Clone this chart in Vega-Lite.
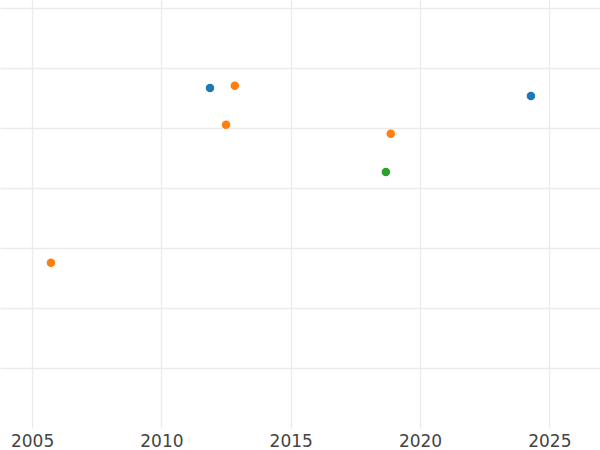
{
  "$schema": "https://vega.github.io/schema/vega-lite/v6.json",
  "width": 600,
  "height": 428,
  "autosize": {"type": "none"},
  "padding": {"top": 0, "left": 0, "right": 0, "bottom": 22},
  "background": "white",
  "config": {"view": {"stroke": null}},
  "data": {
    "values": [
      {"year": 2011.88, "value": 5.665, "group": "A"},
      {"year": 2024.29, "value": 5.535, "group": "A"},
      {"year": 2012.84, "value": 5.705, "group": "B"},
      {"year": 2012.50, "value": 5.055, "group": "B"},
      {"year": 2018.87, "value": 4.905, "group": "B"},
      {"year": 2005.73, "value": 2.755, "group": "B"},
      {"year": 2018.68, "value": 4.265, "group": "C"}
    ]
  },
  "mark": {"type": "circle", "size": 72, "opacity": 1},
  "encoding": {
    "x": {
      "field": "year",
      "type": "quantitative",
      "scale": {"domain": [2003.76, 2026.96], "nice": false, "zero": false},
      "axis": {
        "title": null,
        "values": [2005, 2010, 2015, 2020, 2025],
        "format": "d",
        "domain": false,
        "ticks": false,
        "labelFlush": false,
        "labelPadding": 5,
        "labelFontSize": 17,
        "labelFont": "DejaVu Sans",
        "labelColor": "#444444",
        "gridColor": "#ebebeb",
        "gridWidth": 1.3
      }
    },
    "y": {
      "field": "value",
      "type": "quantitative",
      "scale": {"domain": [0, 7.133], "nice": false, "zero": false},
      "axis": {
        "title": null,
        "values": [1, 2, 3, 4, 5, 6, 7],
        "labels": false,
        "domain": false,
        "ticks": false,
        "gridColor": "#ebebeb",
        "gridWidth": 1.3
      }
    },
    "color": {
      "field": "group",
      "type": "nominal",
      "scale": {"domain": ["A", "B", "C"], "range": ["#1f77b4", "#ff7f0e", "#2ca02c"]},
      "legend": null
    }
  }
}
